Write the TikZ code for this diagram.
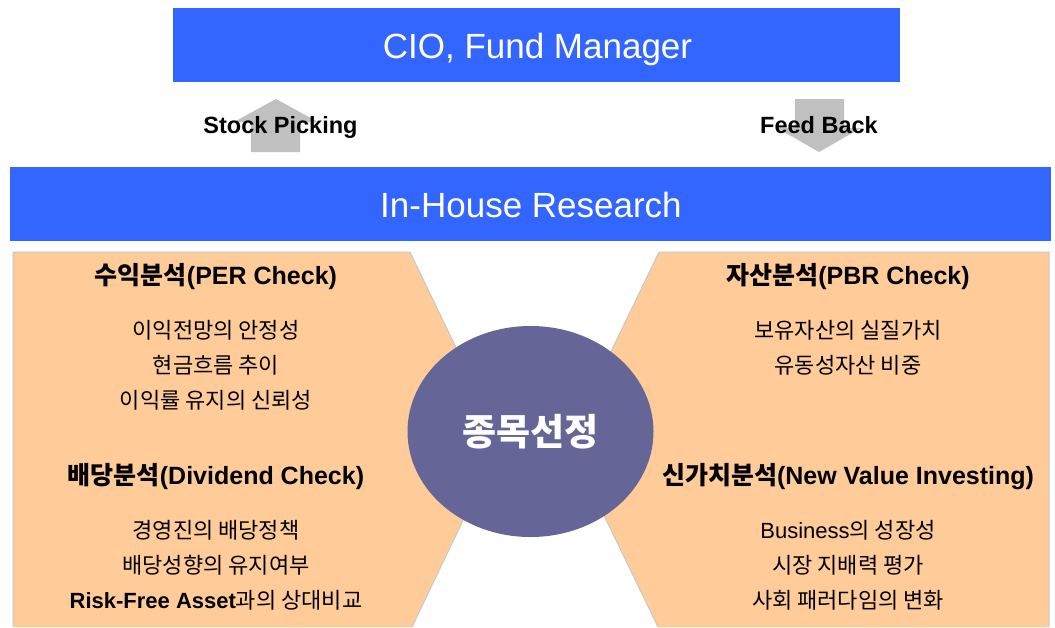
\documentclass[tikz,border=0pt]{standalone}
\usepackage{fontspec}
\setmainfont{Liberation Sans}
\newfontfamily\kr{Noto Sans CJK KR}
\usetikzlibrary{shapes.geometric}
\definecolor{barblue}{RGB}{51,102,255}
\definecolor{peach}{RGB}{255,204,153}
\definecolor{slate}{RGB}{101,101,151}
\definecolor{arrowgray}{RGB}{192,192,192}
\definecolor{edgegray}{RGB}{200,200,200}
\begin{document}
\begin{tikzpicture}[x=1pt,y=-1pt,
  bar/.style={fill=barblue, draw=none, inner sep=0pt, minimum height=74pt},
  bartxt/.style={text=white, font=\fontsize{35}{40}\selectfont, inner sep=0pt, anchor=base},
  lbl/.style={font=\bfseries\fontsize{23.5}{27}\selectfont, inner sep=0pt, anchor=base},
  headtxt/.style={font=\bfseries\fontsize{25}{29}\selectfont, inner sep=0pt},
  itemtxt/.style={font=\fontsize{22}{26}\selectfont, inner sep=0pt},
  edge/.style={draw=edgegray, line width=1pt},
  bigarrow/.style={fill=arrowgray, draw=none}]
\useasboundingbox (0,0) rectangle (1055,627);
\fill[white] (0,0) rectangle (1055,627);

% bars
\node[bar, minimum width=727pt] (cio) at (536.5,45) {};
\node[bartxt] (ciot) at (537.5,58) {CIO, Fund Manager};
\node[bar, minimum width=1041pt] (ihr) at (530.5,204) {};
\node[bartxt] (ihrt) at (531,217) {In-House Research};

% arrows
\fill[bigarrow] (251,152) -- (251,122) -- (234,122) -- (276,99) -- (318,122) -- (300,122) -- (300,152) -- cycle;
\fill[bigarrow] (795,99) -- (844,99) -- (844,128) -- (861,128) -- (819,152) -- (777,128) -- (795,128) -- cycle;
\node[lbl] (sp) at (280.5,133) {Stock Picking};
\node[lbl] (fb) at (819,133) {Feed Back};

% panels
\fill[peach] (13,252) -- (410,252) -- (501,441) -- (412,627) -- (13,627) -- cycle;
\draw[edge] (13,627) -- (13,252) -- (410,252) -- (501,441) -- (412,627);
\fill[peach] (659,252) -- (1049,252) -- (1049,627) -- (658,627) -- (568,441) -- cycle;
\draw[edge] (658,627) -- (568,441) -- (659,252) -- (1049,252) -- (1049,627);

% centre
\node[ellipse, fill=slate, draw=none, minimum width=246pt, minimum height=211pt, inner sep=0pt,
      text=white, font=\kr\bfseries\fontsize{37}{41}\selectfont] (sel) at (530.5,431.5) {종목선정};

% left texts
\node[headtxt] (h1) at (216,277) {{\kr 수익분석}(PER Check)};
\node[itemtxt] (a1) at (216,330) {\kr 이익전망의 안정성};
\node[itemtxt] (a2) at (216,365) {\kr 현금흐름 추이};
\node[itemtxt] (a3) at (216,400) {\kr 이익률 유지의 신뢰성};
\node[headtxt] (h2) at (216,477) {{\kr 배당분석}(Dividend Check)};
\node[itemtxt] (b1) at (216,530) {\kr 경영진의 배당정책};
\node[itemtxt] (b2) at (216,565) {\kr 배당성향의 유지여부};
\node[itemtxt] (b3) at (216,600) {\bfseries Risk-Free Asset{\mdseries\kr 과의 상대비교}};

% right texts
\node[headtxt] (h3) at (848,277) {{\kr 자산분석}(PBR Check)};
\node[itemtxt] (c1) at (848,330) {\kr 보유자산의 실질가치};
\node[itemtxt] (c2) at (848,365) {\kr 유동성자산 비중};
\node[headtxt] (h4) at (848,477) {{\kr 신가치분석}(New Value Investing)};
\node[itemtxt] (d1) at (848,530) {Business{\kr 의 성장성}};
\node[itemtxt] (d2) at (848,565) {\kr 시장 지배력 평가};
\node[itemtxt] (d3) at (848,600) {\kr 사회 패러다임의 변화};
\end{tikzpicture}
\end{document}
